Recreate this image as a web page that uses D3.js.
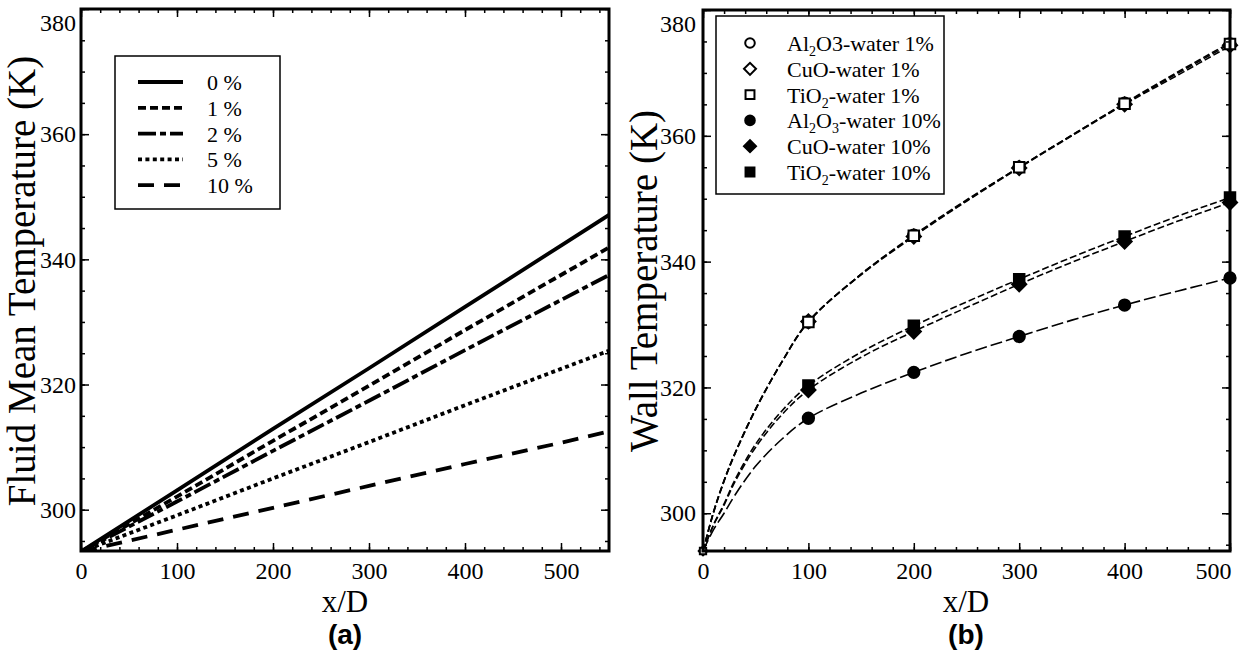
<!DOCTYPE html>
<html>
<head>
<meta charset="utf-8">
<script src="https://cdn.jsdelivr.net/npm/d3@7"></script>
<style>
  body { margin: 0; background: #fff; }
  text { font-family: "Liberation Serif", "Times New Roman", serif; fill: #000; }
</style>
</head>
<body>
<svg id="chart" width="1240" height="653"></svg>
<script>
// ---------- Panel (a): fluid mean temperature vs x/D ----------
const fluidX      = [0, 100, 200, 300, 400, 500, 550];
const fluid0      = [293.3, 303.1, 312.9, 322.6, 332.4, 342.2, 347.1];
const fluid1      = [293.3, 302.1, 311.0, 319.8, 328.7, 337.5, 341.9];
const fluid2      = [293.3, 301.3, 309.4, 317.4, 325.5, 333.5, 337.5];
const fluid5      = [293.3, 299.1, 305.0, 310.8, 316.7, 322.5, 325.4];
const fluid10     = [293.3, 296.8, 300.3, 303.8, 307.3, 310.7, 312.5];
const fluidLabels = ["0 %", "1 %", "2 %", "5 %", "10 %"];

// ---------- Panel (b): wall temperature vs x/D ----------
// symbols (null = no symbol at that station)
const wallX     = [0, 100, 200, 300, 400, 500];
const al2o3_1   = [294.0, 330.4, 344.2, 355.0, 365.2, 374.6];
const cuo_1     = [294.0, 330.5, 344.0, 354.9, 365.0, 374.4];
const tio2_1    = [294.0, 330.4, 344.1, 355.0, 365.1, 374.6];
const al2o3_10  = [null, 315.1, 322.4, 328.1, 333.1, 337.4];
const cuo_10    = [null, 319.6, 328.9, 336.4, 343.2, 349.4];
const tio2_10   = [null, 320.3, 329.8, 337.2, 344.0, 350.2];
// curve fits
const curveX        = [0, 10, 20, 30, 50, 75, 100, 150, 200, 250, 300, 350, 400, 450, 500];
const al2o3_1Curve  = [294.0, 300.2, 305.2, 309.4, 316.6, 324.1, 330.4, 338.0, 344.2, 349.8, 355.0, 360.1, 365.2, 370.1, 374.8];
const cuo_1Curve    = [294.0, 300.1, 305.1, 309.3, 316.5, 324.1, 330.5, 337.9, 344.0, 349.6, 354.9, 360.0, 365.0, 369.6, 374.3];
const tio2_1Curve   = [294.0, 300.2, 305.2, 309.4, 316.6, 324.1, 330.4, 338.0, 344.1, 349.7, 355.0, 360.1, 365.1, 369.9, 374.6];
const al2o3_10Curve = [294.0, 297.4, 300.0, 302.8, 307.5, 311.8, 315.1, 319.1, 322.4, 325.4, 328.1, 330.7, 333.1, 335.3, 337.4];
const cuo_10Curve   = [294.0, 298.1, 301.3, 304.9, 310.5, 315.7, 319.6, 324.8, 328.9, 332.7, 336.4, 339.9, 343.2, 346.4, 349.4];
const tio2_10Curve  = [294.0, 298.2, 301.5, 305.2, 311.0, 316.3, 320.3, 325.6, 329.8, 333.6, 337.2, 340.7, 344.0, 347.2, 350.2];

const svg = d3.select("#chart");
svg.append("rect").attr("width", 1240).attr("height", 653).attr("fill", "#fff");
const defs = svg.append("defs");

const SERIF = "'Liberation Serif', 'Times New Roman', serif";
const SANS  = "'Liberation Sans', Arial, sans-serif";

// Box with inward ticks on all four sides
function drawFrame(g, x, y, xMajor, xMinor, yMajor, yMinor, yPad) {
  const [x0, x1] = x.range();
  const [y0, y1] = y.range(); // y0 bottom, y1 top
  const tickStyle = sel => {
    sel.select(".domain").remove();
    sel.selectAll("line").attr("stroke", "#000").attr("stroke-width", 1.5);
    sel.selectAll("text").style("font-size", "24px").style("font-family", SERIF);
  };
  const fmt = d3.format("d");
  [[d3.axisBottom, y0], [d3.axisTop, y1]].forEach(([ax, pos]) => {
    g.append("g").attr("transform", `translate(0,${pos})`)
      .call(ax(x).tickValues(xMinor).tickSize(-4).tickFormat("")).call(tickStyle);
  });
  const bx = g.append("g").attr("transform", `translate(0,${y0})`)
    .call(d3.axisBottom(x).tickValues(xMajor).tickSize(-8).tickPadding(11).tickFormat(fmt)).call(tickStyle);
  g.append("g").attr("transform", `translate(0,${y1})`)
    .call(d3.axisTop(x).tickValues(xMajor).tickSize(-8).tickFormat("")).call(tickStyle);

  g.append("g").attr("transform", `translate(${x0},0)`)
    .call(d3.axisLeft(y).tickValues(yMinor).tickSize(-4).tickFormat("")).call(tickStyle);
  const ly = g.append("g").attr("transform", `translate(${x0},0)`)
    .call(d3.axisLeft(y).tickValues(yMajor).tickSize(-8).tickPadding(yPad).tickFormat(fmt)).call(tickStyle);
  g.append("g").attr("transform", `translate(${x1},0)`)
    .call(d3.axisRight(y).tickValues(yMinor).tickSize(-4).tickFormat("")).call(tickStyle);
  g.append("g").attr("transform", `translate(${x1},0)`)
    .call(d3.axisRight(y).tickValues(yMajor).tickSize(-8).tickFormat("")).call(tickStyle);

  // keep end labels inside the frame extent
  ly.selectAll(".tick").each(function(d) {
    const t = d3.select(this).select("text");
    const yy = y(d);
    if (yy - y1 < 14) t.attr("dy", null).attr("y", (y1 + 13) - yy + 8);
  });
  bx.selectAll(".tick").each(function(d) {
    const t = d3.select(this).select("text");
    const w = this.querySelector("text").getBBox().width;
    const xx = x(d);
    if (xx + w / 2 > x1 + 1) t.attr("x", (x1 + 1 - w / 2) - xx);
  });

  g.append("rect")
    .attr("x", x0).attr("y", y1)
    .attr("width", x1 - x0).attr("height", y0 - y1)
    .attr("fill", "none").attr("stroke", "#000").attr("stroke-width", 3);
}

function titles(g, yTitle, yx, cx) {
  g.append("text").attr("transform", `translate(${yx},281) rotate(-90)`)
    .attr("text-anchor", "middle").style("font-size", "39px").text(yTitle);
  g.append("text").attr("x", cx).attr("y", 612).attr("text-anchor", "middle")
    .style("font-size", "31px").text("x/D");
}

// ================= Panel (a) =================
const xF = d3.scaleLinear().domain([0, 550]).range([81, 609]);
const yF = d3.scaleLinear().domain([293.4, 380]).range([551, 9]);
const gA = svg.append("g");

defs.append("clipPath").attr("id", "clipA")
  .append("rect").attr("x", 81).attr("y", 9).attr("width", 528).attr("height", 542);

const fluidSeries = [
  { vals: fluid0,  dash: null },
  { vals: fluid1,  dash: "8,4" },
  { vals: fluid2,  dash: "18,4,6,4" },
  { vals: fluid5,  dash: "4,3.4" },
  { vals: fluid10, dash: "16,10" }
];
const lineF = d3.line().x(d => xF(d[0])).y(d => yF(d[1]));
const linesA = gA.append("g").attr("clip-path", "url(#clipA)");
fluidSeries.forEach(s => {
  linesA.append("path")
    .datum(fluidX.map((x, i) => [x, s.vals[i]]))
    .attr("d", lineF)
    .attr("fill", "none").attr("stroke", "#000").attr("stroke-width", 3.8)
    .attr("stroke-dasharray", s.dash);
});

drawFrame(gA, xF, yF,
  d3.range(0, 551, 100), d3.range(0, 551, 20),
  d3.range(300, 381, 20), d3.range(295, 381, 5), 5);

// legend (a)
const legA = gA.append("g");
legA.append("rect").attr("x", 115).attr("y", 56).attr("width", 165).attr("height", 153)
  .attr("fill", "#fff").attr("stroke", "#000").attr("stroke-width", 1.5);
fluidSeries.forEach((s, i) => {
  const yy = 82 + i * 25.8;
  legA.append("line").attr("x1", 138).attr("x2", 183).attr("y1", yy).attr("y2", yy)
    .attr("stroke", "#000").attr("stroke-width", 3.8).attr("stroke-dasharray", s.dash);
  legA.append("text").attr("x", 207).attr("y", yy + 8).style("font-size", "22px").text(fluidLabels[i]);
});

titles(gA, "Fluid Mean Temperature (K)", 35, 345);
gA.append("text").attr("x", 345).attr("y", 644).attr("text-anchor", "middle")
  .style("font-size", "28px").style("font-weight", "bold").style("font-family", SANS).text("(a)");

// ================= Panel (b) =================
const xW = d3.scaleLinear().domain([0, 500]).range([703, 1230]);
const yW = d3.scaleLinear().domain([294, 380]).range([551, 10]);
const gB = svg.append("g");

defs.append("clipPath").attr("id", "clipB")
  .append("rect").attr("x", 703).attr("y", 10).attr("width", 527).attr("height", 541);

const markerPath = {
  circle:  d3.symbol().type(d3.symbolCircle).size(100)(),
  square:  d3.symbol().type(d3.symbolSquare).size(110)(),
  diamond: d3.symbol().type(d3.symbolSquare).size(100)()
};

const wallSeries = [
  { vals: al2o3_1,  curve: al2o3_1Curve,  shape: "circle",  filled: false, dash: "7,3",
    label: [["Al", 0], ["2", 1], ["O3-water 1%", 0]] },
  { vals: cuo_1,    curve: cuo_1Curve,    shape: "diamond", filled: false, dash: "7,3",
    label: [["CuO-water 1%", 0]] },
  { vals: tio2_1,   curve: tio2_1Curve,   shape: "square",  filled: false, dash: "7,3",
    label: [["TiO", 0], ["2", 1], ["-water 1%", 0]] },
  { vals: al2o3_10, curve: al2o3_10Curve, shape: "circle",  filled: true,  dash: "12,4",
    label: [["Al", 0], ["2", 1], ["O", 0], ["3", 1], ["-water 10%", 0]] },
  { vals: cuo_10,   curve: cuo_10Curve,   shape: "diamond", filled: true,  dash: "7,3",
    label: [["CuO-water 10%", 0]] },
  { vals: tio2_10,  curve: tio2_10Curve,  shape: "square",  filled: true,  dash: "7,3",
    label: [["TiO", 0], ["2", 1], ["-water 10%", 0]] }
];

const lineW = d3.line().x(d => xW(d[0])).y(d => yW(d[1])).curve(d3.curveCatmullRom.alpha(0.5));
const linesB = gB.append("g").attr("clip-path", "url(#clipB)");
wallSeries.forEach(s => {
  linesB.append("path")
    .datum(curveX.map((x, i) => [x, s.curve[i]]))
    .attr("d", lineW)
    .attr("fill", "none").attr("stroke", "#000").attr("stroke-width", 1.6)
    .attr("stroke-dasharray", s.dash);
});

function marker(g, s, cx, cy, scale) {
  g.append("path")
    .attr("d", markerPath[s.shape])
    .attr("transform", `translate(${cx},${cy}) scale(${scale})` + (s.shape === "diamond" ? " rotate(45)" : ""))
    .attr("fill", s.filled ? "#000" : "#fff")
    .attr("stroke", "#000").attr("stroke-width", 2 / scale);
}

wallSeries.forEach(s => {
  wallX.forEach((x, i) => {
    if (s.vals[i] != null) marker(gB, s, xW(x), yW(s.vals[i]), x === 0 ? 0.6 : 1);
  });
});

drawFrame(gB, xW, yW,
  d3.range(0, 501, 100), d3.range(0, 501, 20),
  d3.range(300, 381, 20), d3.range(295, 381, 5), 7);

// legend (b)
const legB = gB.append("g");
legB.append("rect").attr("x", 716).attr("y", 16).attr("width", 228).attr("height", 178)
  .attr("fill", "#fff").attr("stroke", "#000").attr("stroke-width", 1.5);
wallSeries.forEach((s, i) => {
  const yy = 43 + i * 25.8;
  marker(legB, s, 750, yy, 0.85);
  const t = legB.append("text").attr("x", 787).attr("y", yy + 8).style("font-size", "22px");
  let shifted = false;
  s.label.forEach(([txt, sub]) => {
    const ts = t.append("tspan").text(txt);
    if (sub && !shifted) { ts.attr("dy", 5).style("font-size", "14px"); shifted = true; }
    else if (!sub && shifted) { ts.attr("dy", -5); shifted = false; }
  });
});

titles(gB, "Wall Temperature (K)", 657, 966);
gB.append("text").attr("x", 966).attr("y", 644).attr("text-anchor", "middle")
  .style("font-size", "28px").style("font-weight", "bold").style("font-family", SANS).text("(b)");
</script>
</body>
</html>
